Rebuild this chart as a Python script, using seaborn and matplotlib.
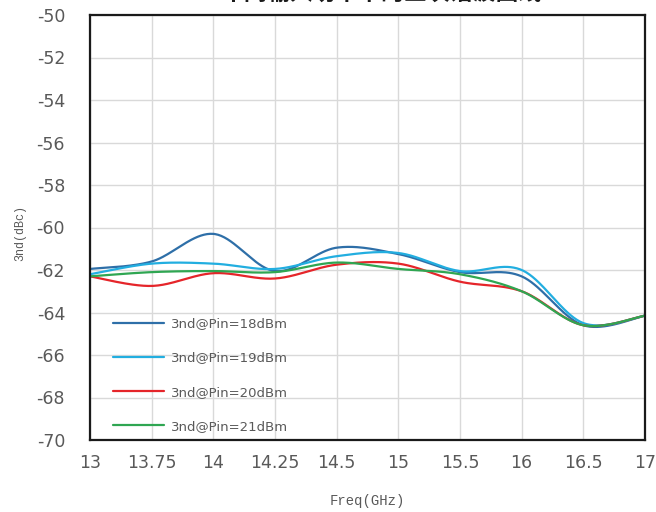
import numpy as np
import pandas as pd
import matplotlib
matplotlib.use("Agg")
import matplotlib.pyplot as plt
import seaborn as sns

# Frequency categories (GHz) as shown on the category axis
freq_labels = ["13", "13.75", "14", "14.25", "14.5", "15", "15.5", "16", "16.5", "17"]

# Third-harmonic level (dBc) for each input power
pin18 = [-61.95, -61.6, -60.3, -62.05, -60.95, -61.25, -62.1, -62.3, -64.6, -64.15]
pin19 = [-62.2, -61.7, -61.7, -61.95, -61.35, -61.2, -62.05, -62.0, -64.5, -64.15]
pin20 = [-62.3, -62.75, -62.15, -62.4, -61.75, -61.7, -62.55, -63.0, -64.6, -64.15]
pin21 = [-62.3, -62.1, -62.05, -62.1, -61.65, -61.95, -62.2, -63.0, -64.6, -64.15]

series_names = ["3nd@Pin=18dBm", "3nd@Pin=19dBm", "3nd@Pin=20dBm", "3nd@Pin=21dBm"]
series_values = [pin18, pin19, pin20, pin21]
colors = ["#2E6FA8", "#22AEE0", "#E5252A", "#2FA652"]

title_text = "不同输入功率下的三次谐波曲线"


def smooth_curve(vals, n=40):
    """Excel-style smoothed line: cubic Bezier segments with Catmull-Rom tangents."""
    p = np.column_stack([np.arange(len(vals), dtype=float), np.asarray(vals, float)])
    ext = np.vstack([p[0], p, p[-1]])
    xs, ys = [], []
    t = np.linspace(0, 1, n)[:, None]
    for i in range(len(p) - 1):
        p0, p1, p2, p3 = ext[i], ext[i + 1], ext[i + 2], ext[i + 3]
        c1 = p1 + (p2 - p0) / 6.0
        c2 = p2 - (p3 - p1) / 6.0
        seg = ((1 - t) ** 3) * p1 + 3 * ((1 - t) ** 2) * t * c1 + 3 * (1 - t) * t ** 2 * c2 + t ** 3 * p2
        if i > 0:
            seg = seg[1:]
        xs.append(seg[:, 0])
        ys.append(seg[:, 1])
    return np.concatenate(xs), np.concatenate(ys)


frames = []
for name, vals in zip(series_names, series_values):
    sx, sy = smooth_curve(vals)
    frames.append(pd.DataFrame({"pos": sx, "val": sy, "series": name}))
curves = pd.concat(frames, ignore_index=True)

sns.set_theme(style="whitegrid")
plt.rcParams["font.family"] = ["DejaVu Sans", "Noto Sans CJK SC"]
plt.rcParams["axes.unicode_minus"] = False

fig = plt.figure(figsize=(6.56, 5.12), dpi=100)
ax = fig.add_axes([90 / 656, 72 / 512, 555 / 656, 425 / 512])

sns.lineplot(data=curves, x="pos", y="val", hue="series", palette=colors,
             hue_order=series_names, sort=False, estimator=None, units="series",
             linewidth=1.6, ax=ax)

ax.set_xlim(0, len(freq_labels) - 1)
ax.set_ylim(-70, -50)
ax.set_xticks(range(len(freq_labels)))
ax.set_xticklabels(freq_labels)
ax.set_yticks(np.arange(-70, -49, 2))
ax.tick_params(axis="both", length=0, labelsize=12.5, labelcolor="#595959")
ax.tick_params(axis="x", pad=10)
ax.tick_params(axis="y", pad=18)

ax.grid(True, color="#D9D9D9", linewidth=1.0)
for s in ax.spines.values():
    s.set_visible(True)
    s.set_color("#1A1A1A")
    s.set_linewidth(1.6)

ax.set_xlabel("Freq(GHz)", family="Liberation Mono", fontsize=10, color="#595959")
ax.set_ylabel("3nd(dBc)", family="Liberation Mono", fontsize=8.5, color="#595959")
ax.xaxis.set_label_coords(0.499, -0.128)
ax.yaxis.set_label_coords(-0.115, 0.487)

handles, labels = ax.get_legend_handles_labels()
ax.legend(handles, labels, loc="upper left", bbox_to_anchor=(0.0326, 0.301),
          frameon=False, fontsize=9.5, labelcolor="#595959",
          handlelength=3.8, handletextpad=0.53, labelspacing=1.6, borderaxespad=0.0)

fig.text(381 / 656, 1 - 5.5 / 512, title_text, ha="center", va="bottom",
         fontsize=16.5, fontweight="bold", color="#1A1A1A",
         family=["Noto Sans CJK SC", "DejaVu Sans"])

fig.savefig("out.png", dpi=100)
